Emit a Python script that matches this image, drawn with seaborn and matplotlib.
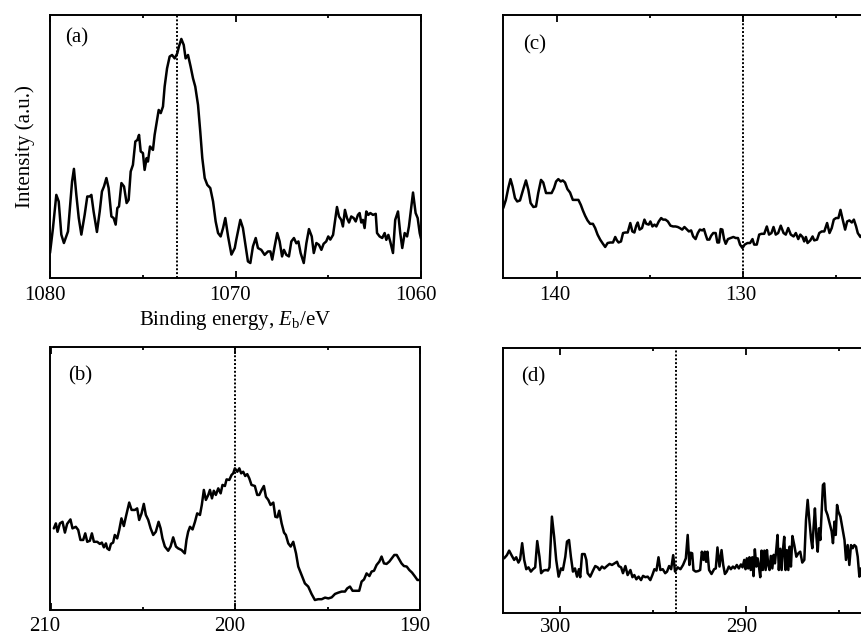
import matplotlib
matplotlib.use("Agg")
import matplotlib.pyplot as plt
from matplotlib.ticker import MultipleLocator, FormatStrFormatter
from matplotlib.transforms import ScaledTranslation
import numpy as np
import pandas as pd
import seaborn as sns

# ---------------- data (binding energy in eV, intensity in arbitrary units 0-100) ----------------
a_x = [
    1080.00, 1079.84, 1079.66, 1079.53, 1079.39, 1079.25, 1079.03, 1078.94, 1078.81, 1078.71,
    1078.58, 1078.45, 1078.31, 1078.13, 1077.99, 1077.86, 1077.77, 1077.65, 1077.47, 1077.32,
    1077.20, 1077.09, 1076.96, 1076.84, 1076.69, 1076.57, 1076.46, 1076.37, 1076.28, 1076.15,
    1076.01, 1075.87, 1075.76, 1075.65, 1075.53, 1075.40, 1075.29, 1075.20, 1075.11, 1074.99,
    1074.90, 1074.79, 1074.72, 1074.61, 1074.45, 1074.36, 1074.27, 1074.14, 1074.03, 1073.91,
    1073.82, 1073.69, 1073.55, 1073.42, 1073.28, 1073.14, 1073.05, 1072.92, 1072.79, 1072.69,
    1072.56, 1072.42, 1072.29, 1072.17, 1072.02, 1071.90, 1071.79, 1071.66, 1071.52, 1071.36,
    1071.21, 1071.07, 1070.94, 1070.80, 1070.67, 1070.55, 1070.40, 1070.22, 1070.04, 1069.96,
    1069.74, 1069.60, 1069.45, 1069.33, 1069.20, 1069.06, 1068.91, 1068.79, 1068.61, 1068.43,
    1068.25, 1068.12, 1068.02, 1067.89, 1067.75, 1067.62, 1067.49, 1067.39, 1067.26, 1067.12,
    1066.99, 1066.85, 1066.72, 1066.61, 1066.49, 1066.32, 1066.18, 1066.04, 1065.89, 1065.78,
    1065.64, 1065.50, 1065.37, 1065.25, 1065.11, 1065.00, 1064.89, 1064.74, 1064.65, 1064.53,
    1064.42, 1064.30, 1064.21, 1064.10, 1063.99, 1063.88, 1063.76, 1063.63, 1063.52, 1063.40,
    1063.31, 1063.22, 1063.13, 1063.04, 1062.95, 1062.84, 1062.73, 1062.59, 1062.44, 1062.37,
    1062.23, 1062.09, 1061.96, 1061.87, 1061.76, 1061.66, 1061.51, 1061.39, 1061.24, 1061.12,
    1061.01, 1060.88, 1060.75, 1060.65, 1060.52, 1060.43, 1060.29, 1060.18, 1060.07, 1060.00,
]
a_y = [
    9.5, 19.0, 31.6, 29.1, 16.5, 13.3, 17.7, 25.3, 36.7, 41.5,
    31.6, 22.8, 16.5, 24.1, 31.0, 31.0, 31.6, 25.3, 17.5, 25.3,
    32.9, 34.8, 38.0, 34.2, 23.4, 22.8, 20.3, 26.6, 27.2, 36.1,
    34.8, 28.5, 29.7, 40.5, 43.0, 51.9, 52.5, 54.4, 48.1, 47.5,
    41.1, 45.6, 44.3, 50.0, 48.7, 54.4, 58.2, 63.9, 62.7, 65.2,
    72.8, 79.7, 84.2, 84.8, 83.5, 85.4, 88.0, 90.9, 88.6, 83.5,
    84.8, 80.4, 75.9, 72.8, 65.8, 55.7, 45.6, 38.0, 35.4, 34.2,
    29.1, 21.5, 17.1, 15.8, 19.0, 22.8, 15.8, 8.9, 11.4, 14.5,
    22.1, 19.0, 12.0, 6.3, 5.7, 12.0, 15.2, 11.4, 10.7, 8.8,
    10.1, 10.1, 7.0, 12.0, 17.1, 13.9, 8.2, 10.7, 8.8, 8.2,
    13.9, 15.2, 13.2, 13.9, 9.5, 5.7, 13.2, 18.6, 15.8, 9.5,
    13.3, 12.6, 10.7, 13.0, 13.9, 15.8, 14.6, 16.4, 20.9, 27.0,
    23.4, 22.1, 19.6, 25.9, 22.8, 21.1, 23.4, 22.8, 21.5, 24.0,
    24.7, 21.1, 22.1, 19.0, 25.3, 24.0, 24.7, 24.0, 24.4, 17.1,
    15.8, 15.2, 17.1, 14.5, 16.4, 13.9, 9.5, 22.1, 25.3, 17.1,
    11.4, 17.1, 15.8, 19.6, 27.2, 32.5, 24.7, 22.8, 17.1, 15.0,
]

b_x = [
    209.82, 209.71, 209.62, 209.49, 209.35, 209.22, 209.10, 208.92, 208.81, 208.63,
    208.50, 208.38, 208.23, 208.12, 208.01, 207.87, 207.76, 207.65, 207.47, 207.33,
    207.22, 207.11, 207.00, 206.93, 206.82, 206.73, 206.61, 206.52, 206.39, 206.28,
    206.16, 206.03, 205.92, 205.74, 205.61, 205.43, 205.31, 205.20, 205.07, 204.95,
    204.84, 204.71, 204.58, 204.44, 204.30, 204.15, 204.04, 203.94, 203.81, 203.63,
    203.50, 203.36, 203.21, 203.09, 202.91, 202.73, 202.64, 202.55, 202.45, 202.31,
    202.18, 202.06, 201.91, 201.81, 201.70, 201.59, 201.46, 201.37, 201.26, 201.16,
    201.05, 200.92, 200.79, 200.69, 200.56, 200.47, 200.32, 200.20, 200.11, 200.02,
    199.89, 199.78, 199.68, 199.57, 199.46, 199.35, 199.24, 199.12, 198.94, 198.81,
    198.70, 198.57, 198.45, 198.34, 198.21, 198.09, 197.94, 197.83, 197.72, 197.62,
    197.49, 197.36, 197.26, 197.13, 197.00, 196.86, 196.71, 196.59, 196.41, 196.23,
    196.05, 195.87, 195.69, 195.51, 195.32, 195.14, 194.96, 194.78, 194.60, 194.42,
    194.24, 194.06, 193.94, 193.79, 193.65, 193.47, 193.29, 193.16, 193.03, 192.89,
    192.74, 192.62, 192.49, 192.35, 192.20, 192.08, 191.95, 191.81, 191.66, 191.53,
    191.39, 191.26, 191.12, 191.00, 190.87, 190.72, 190.58, 190.43, 190.27, 190.14,
    190.04,
]
b_y = [
    31.0, 32.9, 29.7, 32.9, 33.5, 29.4, 32.7, 34.4, 31.0, 31.6,
    30.4, 26.6, 26.6, 29.1, 25.9, 26.3, 29.1, 25.9, 25.9, 25.1,
    25.6, 23.8, 25.3, 23.4, 22.8, 25.1, 25.6, 28.5, 27.2, 30.4,
    34.8, 31.9, 35.4, 40.8, 38.0, 38.0, 38.6, 34.2, 36.7, 40.3,
    36.1, 34.2, 31.0, 28.5, 29.7, 33.5, 31.0, 27.2, 24.1, 22.5,
    24.1, 27.6, 24.1, 23.4, 22.8, 21.5, 26.6, 29.7, 31.6, 30.6,
    33.5, 36.7, 36.1, 39.9, 45.6, 41.8, 43.7, 45.6, 42.4, 45.3,
    43.7, 46.2, 44.3, 47.5, 47.1, 49.6, 49.4, 51.3, 51.9, 53.8,
    52.5, 53.8, 51.9, 52.5, 50.9, 51.6, 50.0, 47.5, 47.1, 43.7,
    43.7, 45.6, 47.1, 43.0, 41.8, 39.9, 40.8, 35.4, 35.2, 37.7,
    32.9, 29.4, 28.5, 25.3, 24.1, 25.9, 21.5, 16.5, 13.3, 10.1,
    8.9, 6.1, 3.8, 4.1, 4.1, 4.7, 4.4, 4.8, 6.1, 6.6,
    7.0, 7.0, 8.2, 8.9, 7.3, 7.3, 7.3, 10.8, 11.6, 13.9,
    12.9, 14.6, 14.9, 17.1, 18.4, 20.3, 17.7, 17.5, 18.4, 19.6,
    20.9, 20.9, 19.2, 17.7, 16.7, 16.5, 15.2, 14.2, 12.7, 11.4,
    11.4,
]

c_x = [
    142.91, 142.77, 142.64, 142.52, 142.41, 142.28, 142.16, 142.01, 141.87, 141.69,
    141.56, 141.44, 141.29, 141.15, 141.03, 140.88, 140.76, 140.61, 140.49, 140.31,
    140.18, 140.07, 139.95, 139.82, 139.71, 139.59, 139.46, 139.32, 139.17, 139.05,
    138.87, 138.74, 138.63, 138.51, 138.38, 138.24, 138.09, 137.97, 137.84, 137.70,
    137.55, 137.43, 137.30, 137.16, 137.01, 136.89, 136.80, 136.71, 136.58, 136.47,
    136.35, 136.22, 136.08, 135.97, 135.86, 135.76, 135.68, 135.58, 135.45, 135.32,
    135.22, 135.09, 135.00, 134.89, 134.78, 134.68, 134.55, 134.42, 134.32, 134.19,
    134.06, 133.92, 133.78, 133.65, 133.53, 133.42, 133.29, 133.17, 133.06, 132.93,
    132.81, 132.70, 132.57, 132.45, 132.34, 132.21, 132.12, 132.03, 131.94, 131.83,
    131.73, 131.62, 131.49, 131.40, 131.31, 131.22, 131.13, 131.04, 130.95, 130.83,
    130.68, 130.54, 130.41, 130.29, 130.18, 130.05, 129.93, 129.78, 129.64, 129.51,
    129.42, 129.28, 129.15, 129.03, 128.88, 128.74, 128.62, 128.49, 128.38, 128.26,
    128.13, 127.99, 127.84, 127.72, 127.59, 127.45, 127.30, 127.18, 127.05, 126.94,
    126.82, 126.73, 126.64, 126.55, 126.40, 126.28, 126.19, 126.04, 125.92, 125.79,
    125.65, 125.50, 125.37, 125.25, 125.14, 125.02, 124.89, 124.78, 124.66, 124.53,
    124.42, 124.30, 124.17, 124.06, 123.94, 123.85, 123.71, 123.56,
]
c_y = [
    26.6, 29.7, 34.2, 37.6, 34.8, 30.4, 29.1, 29.5, 32.9, 37.1,
    33.5, 28.5, 27.0, 27.2, 32.3, 37.3, 36.3, 32.3, 32.3, 32.3,
    34.2, 36.7, 37.6, 36.7, 37.1, 36.3, 33.8, 32.5, 29.7, 29.7,
    29.7, 27.8, 25.7, 23.7, 21.9, 20.6, 20.6, 19.0, 16.5, 14.6,
    13.0, 11.8, 13.3, 13.5, 13.5, 15.6, 14.3, 13.5, 13.9, 17.1,
    17.3, 17.3, 20.9, 17.7, 17.3, 19.9, 21.1, 18.4, 19.0, 22.2,
    20.6, 20.3, 21.5, 19.6, 20.3, 19.6, 21.5, 22.8, 22.2, 22.2,
    21.5, 19.9, 19.6, 19.6, 19.4, 19.0, 18.4, 19.4, 18.6, 17.7,
    18.1, 15.8, 14.8, 17.1, 18.4, 18.1, 18.6, 16.5, 14.6, 14.6,
    16.1, 17.1, 17.1, 13.5, 13.5, 18.6, 18.4, 14.8, 13.0, 14.8,
    15.2, 15.6, 15.2, 15.2, 12.7, 11.4, 12.7, 13.3, 13.3, 14.8,
    12.7, 12.7, 16.5, 16.8, 16.8, 19.6, 16.5, 17.1, 19.4, 16.5,
    17.1, 19.9, 17.1, 16.5, 19.0, 16.5, 15.8, 17.1, 14.8, 16.5,
    15.6, 13.9, 15.6, 13.3, 14.3, 15.8, 14.3, 14.6, 17.1, 17.7,
    17.7, 20.9, 17.1, 19.0, 22.2, 22.8, 22.8, 25.9, 22.2, 18.4,
    21.5, 21.9, 21.1, 22.2, 19.6, 17.1, 15.6, 17.1,
]

d_x = [
    302.98, 302.83, 302.71, 302.56, 302.44, 302.33, 302.21, 302.12, 302.01, 301.90,
    301.79, 301.67, 301.54, 301.43, 301.31, 301.20, 301.08, 300.99, 300.86, 300.73,
    300.62, 300.54, 300.41, 300.29, 300.18, 300.05, 299.92, 299.82, 299.69, 299.60,
    299.49, 299.39, 299.28, 299.17, 299.06, 298.96, 298.89, 298.79, 298.65, 298.56,
    298.49, 298.35, 298.20, 298.08, 297.95, 297.85, 297.72, 297.59, 297.45, 297.31,
    297.18, 297.05, 296.91, 296.82, 296.69, 296.59, 296.46, 296.34, 296.19, 296.08,
    295.98, 295.87, 295.75, 295.62, 295.51, 295.39, 295.26, 295.12, 295.01, 294.90,
    294.79, 294.68, 294.58, 294.45, 294.32, 294.22, 294.11, 294.00, 293.89, 293.79,
    293.65, 293.50, 293.36, 293.21, 293.11, 293.02, 292.95, 292.87, 292.80, 292.68,
    292.55, 292.44, 292.35, 292.26, 292.19, 292.12, 292.05, 291.96, 291.83, 291.69,
    291.60, 291.51, 291.40, 291.29, 291.20, 291.11, 291.01, 290.90, 290.79, 290.68,
    290.58, 290.47, 290.36, 290.25, 290.16, 290.07, 290.00, 289.93, 289.86, 289.79,
    289.72, 289.64, 289.57, 289.50, 289.42, 289.35, 289.28, 289.21, 289.14, 289.07,
    288.99, 288.92, 288.85, 288.78, 288.71, 288.64, 288.56, 288.49, 288.42, 288.35,
    288.28, 288.21, 288.13, 288.06, 287.99, 287.92, 287.85, 287.78, 287.70, 287.63,
    287.56, 287.48, 287.38, 287.27, 287.16, 287.06, 286.95, 286.84, 286.75, 286.66,
    286.57, 286.48, 286.41, 286.34, 286.27, 286.19, 286.12, 286.05, 285.98, 285.91,
    285.84, 285.77, 285.69, 285.59, 285.48, 285.37, 285.30, 285.22, 285.15, 285.08,
    285.01, 284.90, 284.79, 284.68, 284.60, 284.51, 284.42, 284.33, 284.24, 284.15,
    284.06, 283.97, 283.88, 283.80, 283.71,
]
d_y = [
    20.7, 21.9, 23.6, 21.6, 20.1, 21.1, 19.1, 20.3, 26.4, 20.1,
    16.6, 17.3, 15.7, 16.6, 17.3, 27.2, 21.3, 15.1, 16.1, 16.3,
    16.1, 17.3, 36.4, 28.8, 20.1, 13.8, 16.9, 16.3, 21.3, 27.0,
    27.6, 21.3, 15.7, 16.9, 13.8, 16.6, 13.6, 22.3, 22.3, 20.1,
    15.1, 13.8, 16.1, 17.8, 17.3, 16.3, 17.6, 16.9, 17.8, 18.6,
    18.2, 18.8, 19.4, 17.8, 17.3, 15.1, 17.8, 14.4, 16.3, 13.6,
    14.4, 12.8, 13.8, 12.5, 14.1, 13.6, 13.8, 12.5, 14.4, 16.6,
    16.1, 21.1, 16.3, 16.6, 15.1, 15.7, 17.8, 16.6, 21.9, 15.7,
    17.3, 16.6, 18.2, 20.7, 29.5, 18.2, 22.8, 22.6, 16.3, 15.7,
    15.9, 16.3, 23.2, 20.1, 23.2, 19.4, 23.2, 16.3, 14.8, 16.6,
    16.9, 24.8, 17.6, 23.8, 18.2, 14.8, 15.7, 17.6, 16.6, 17.6,
    16.9, 18.2, 16.9, 18.4, 17.3, 20.1, 16.6, 20.7, 16.9, 21.1,
    16.3, 21.1, 14.0, 24.1, 17.6, 20.7, 17.6, 13.6, 23.6, 16.3,
    23.6, 16.3, 23.8, 18.2, 16.3, 21.6, 16.9, 22.0, 18.8, 23.8,
    29.5, 16.3, 24.3, 16.3, 23.8, 28.8, 16.3, 23.8, 16.3, 25.1,
    17.6, 29.1, 25.7, 21.3, 22.6, 23.2, 19.1, 20.1, 35.1, 42.7,
    35.1, 28.2, 24.5, 32.6, 39.5, 28.8, 23.2, 32.0, 27.6, 37.6,
    48.3, 48.9, 38.9, 37.0, 33.9, 30.8, 26.4, 34.5, 29.5, 40.8,
    38.3, 36.4, 32.0, 27.6, 20.1, 25.7, 18.2, 25.7, 24.5, 25.7,
    25.1, 21.3, 13.8, 16.9, 13.8,
]

panel_labels = ["(a)", "(b)", "(c)", "(d)"]
reference_lines = [1073.15, 200.0, 130.0, 293.75]

# ---------------- style ----------------
sns.set_theme(style="white")
plt.rcParams["font.family"] = ["Liberation Serif", "DejaVu Serif"]
plt.rcParams["mathtext.fontset"] = "custom"
plt.rcParams["mathtext.rm"] = "Liberation Serif"
plt.rcParams["mathtext.it"] = "Liberation Serif:italic"

FS = 15
W, H = 862, 637
fig = plt.figure(figsize=(W / 100, H / 100), dpi=100)
fig.patch.set_facecolor("white")


def px_axes(left, top, right, bottom):
    return [left / W, 1 - bottom / H, (right - left) / W, (bottom - top) / H]


panels = [
    dict(x=a_x, y=a_y, rect=px_axes(50, 15, 421, 278), xlim=(1080, 1060),
         lab=(0.040, 0.949), shift=-5.5, pad=5.5),
    dict(x=b_x, y=b_y, rect=px_axes(50.5, 346.7, 420, 610), xlim=(210, 190),
         lab=(0.048, 0.924), shift=-5.5, pad=5.0),
    dict(x=c_x, y=c_y, rect=px_axes(502.7, 15, 874.7, 278), xlim=(142.94, 122.94),
         lab=(0.054, 0.924), shift=-2.5, pad=5.5),
    dict(x=d_x, y=d_y, rect=px_axes(503, 347.7, 875, 613.3), xlim=(303.04, 283.04),
         lab=(0.049, 0.928), shift=-4.0, pad=3.6),
]

axes = []
for i, p in enumerate(panels):
    ax = fig.add_axes(p["rect"])
    df = pd.DataFrame({"energy": p["x"], "intensity": p["y"]})
    sns.lineplot(data=df, x="energy", y="intensity", ax=ax, color="black",
                 lw=1.8, estimator=None, sort=False)
    ax.axvline(reference_lines[i], color="black", lw=1.4, ls=(0, (1.0, 1.0)))
    ax.set_xlim(*p["xlim"])
    ax.set_ylim(0, 100)
    ax.set_yticks([])
    ax.xaxis.set_major_locator(MultipleLocator(10))
    ax.xaxis.set_minor_locator(MultipleLocator(5))
    ax.xaxis.set_major_formatter(FormatStrFormatter("%d"))
    ax.tick_params(axis="x", which="both", direction="in", top=True, bottom=True,
                   width=1.3, color="black", labelsize=FS, pad=p["pad"],
                   labelcolor="black")
    ax.tick_params(axis="x", which="major", length=5)
    ax.tick_params(axis="x", which="minor", length=2.3)
    for s in ax.spines.values():
        s.set_visible(True)
        s.set_color("black")
        s.set_linewidth(1.4)
    ax.set_xlabel("")
    ax.set_ylabel("")
    offset = ScaledTranslation(p["shift"] / 100, 0, fig.dpi_scale_trans)
    for lbl in ax.get_xticklabels():
        lbl.set_transform(lbl.get_transform() + offset)
    ax.text(p["lab"][0], p["lab"][1], panel_labels[i], transform=ax.transAxes,
            ha="left", va="top", fontsize=FS, color="black")
    axes.append(ax)

axes[0].set_ylabel("Intensity (a.u.)", fontsize=FS, color="black", labelpad=11)
axes[0].set_xlabel(r"Binding energy, $E_\mathrm{b}$/eV", fontsize=FS, color="black", labelpad=3)

fig.savefig("out.png", dpi=100, facecolor="white")
